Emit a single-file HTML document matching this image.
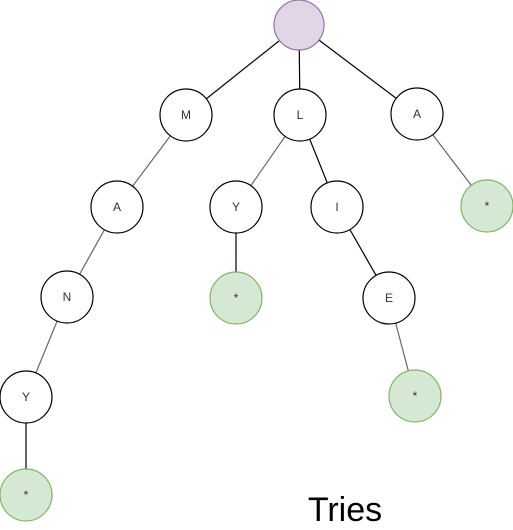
<!DOCTYPE html>
<html><head><meta charset="utf-8"><style>
html,body{margin:0;padding:0;background:#fff;width:513px;height:530px;overflow:hidden}
</style></head><body>
<svg width="513" height="530" xmlns="http://www.w3.org/2000/svg" font-family="Liberation Sans, sans-serif">
<g stroke="#000" stroke-width="1.2">
<line x1="299" y1="25" x2="186" y2="115"/>
<line x1="299" y1="25" x2="300" y2="115"/>
<line x1="299" y1="25" x2="417" y2="114"/>
<line x1="186" y1="115" x2="117" y2="207" stroke="#666"/>
<line x1="300" y1="115" x2="236" y2="207" stroke="#666"/>
<line x1="300" y1="115" x2="337" y2="207"/>
<line x1="417" y1="114" x2="487" y2="206" stroke="#666"/>
<line x1="117" y1="207" x2="67" y2="297" stroke="#666"/>
<line x1="236" y1="207" x2="236" y2="298"/>
<line x1="337" y1="207" x2="389" y2="298"/>
<line x1="67" y1="297" x2="26" y2="397" stroke="#666"/>
<line x1="389" y1="298" x2="415" y2="396" stroke="#666"/>
<line x1="26" y1="397" x2="26" y2="495"/>
</g>
<circle cx="299" cy="25" r="25" fill="#e1d5e7" stroke="#9673a6" stroke-width="1.2"/>
<g fill="#fff" stroke="#000" stroke-width="1.2">
<circle cx="186" cy="115" r="26"/>
<circle cx="300" cy="115" r="26"/>
<circle cx="417" cy="114" r="26"/>
<circle cx="117" cy="207" r="26"/>
<circle cx="236" cy="207" r="26"/>
<circle cx="337" cy="207" r="26"/>
<circle cx="67" cy="297" r="26"/>
<circle cx="389" cy="298" r="26"/>
<circle cx="26" cy="397" r="26"/>
</g>
<g fill="#d5e8d4" stroke="#82b366" stroke-width="1.2">
<circle cx="487" cy="206" r="26"/>
<circle cx="236" cy="298" r="26"/>
<circle cx="415" cy="396" r="26"/>
<circle cx="26" cy="495" r="26"/>
</g>
<g font-size="12" fill="#333" text-anchor="middle">
<text x="186" y="119">M</text>
<text x="300" y="119">L</text>
<text x="417" y="118">A</text>
<text x="117" y="211">A</text>
<text x="236" y="211">Y</text>
<text x="337" y="211">I</text>
<text x="67" y="301">N</text>
<text x="389" y="302">E</text>
<text x="26" y="401">Y</text>
<text x="487" y="210">*</text>
<text x="236" y="302">*</text>
<text x="415" y="400">*</text>
<text x="26" y="499">*</text>
</g>
<text x="345" y="521" font-size="34" text-anchor="middle" fill="#000">Tries</text>
</svg>
</body></html>
